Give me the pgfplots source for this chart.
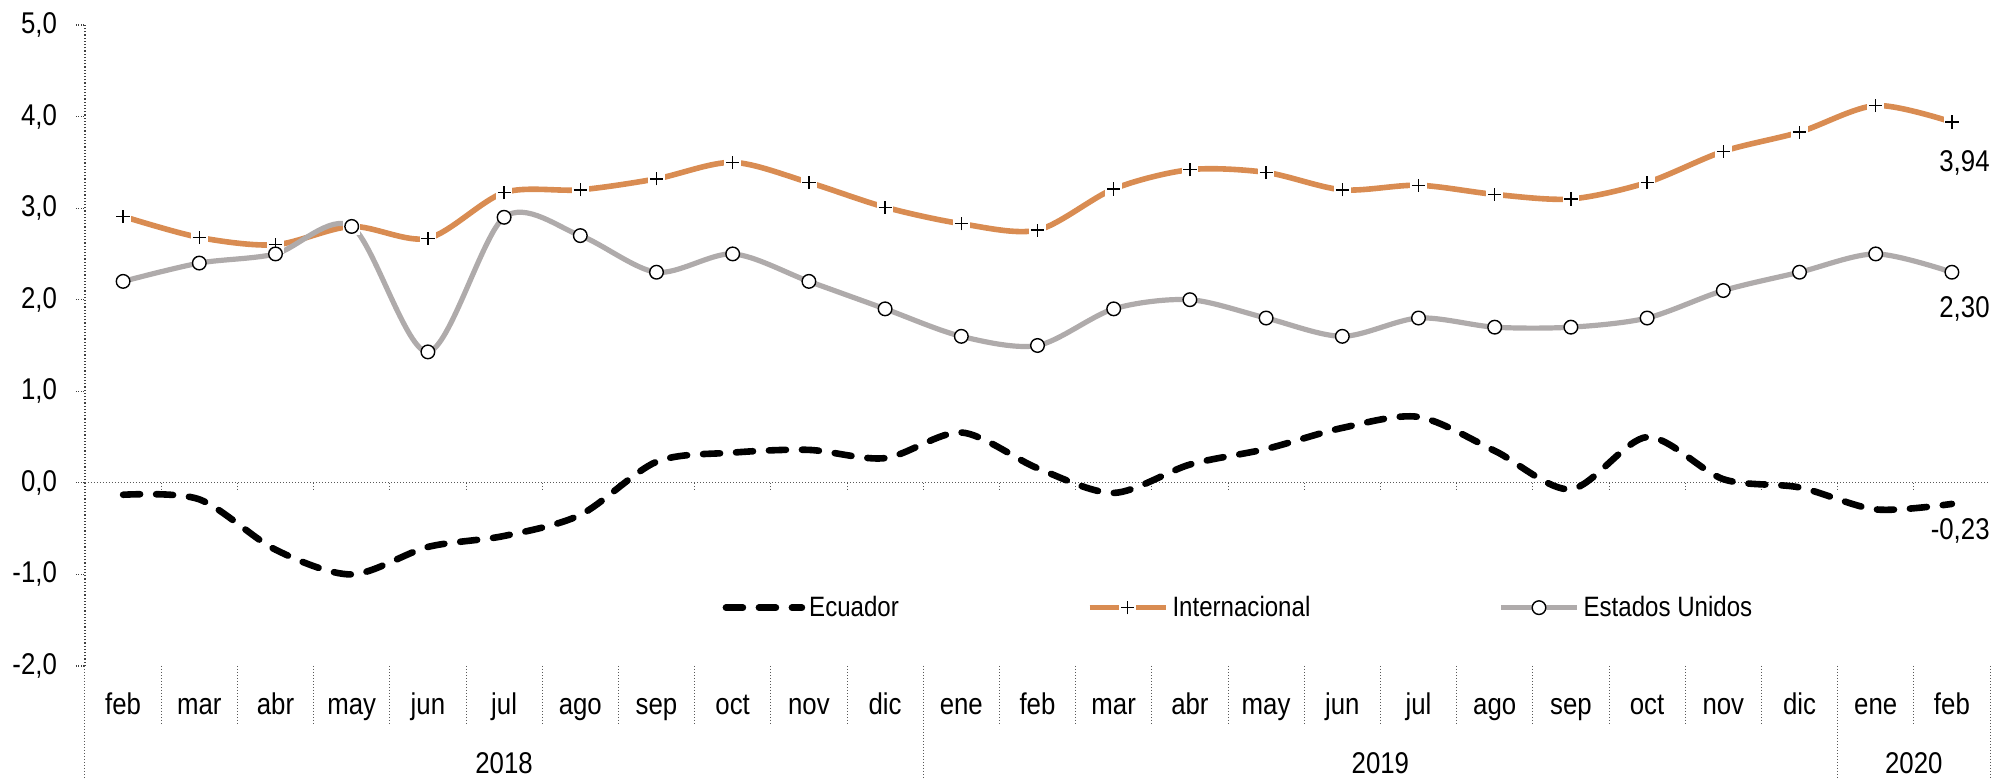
\documentclass[border=0pt]{standalone}
\usepackage{fontspec}
\setmainfont{Liberation Sans}[FakeStretch=0.86]
\usepackage{pgfplots}
\usepackage{pgfplotstable}
\pgfplotsset{compat=1.18}

\definecolor{intl}{RGB}{217,140,82}
\definecolor{usa}{RGB}{175,171,171}

% plus mark with a white patch behind it, so the line breaks at the mark
\pgfdeclareplotmark{wplus}{%
  \pgfpathrectangle{\pgfqpoint{-1.25\pgfplotmarksize}{-1.25\pgfplotmarksize}}%
                   {\pgfqpoint{2.5\pgfplotmarksize}{2.5\pgfplotmarksize}}%
  \pgfusepathqfill
  \pgfpathmoveto{\pgfqpoint{-\pgfplotmarksize}{0pt}}%
  \pgfpathlineto{\pgfqpoint{\pgfplotmarksize}{0pt}}%
  \pgfpathmoveto{\pgfqpoint{0pt}{-\pgfplotmarksize}}%
  \pgfpathlineto{\pgfqpoint{0pt}{\pgfplotmarksize}}%
  \pgfusepathqstroke}

\pgfplotstableread{
x  ecu   intl  usa
0  -0.13 2.91  2.20
1  -0.18 2.68  2.40
2  -0.73 2.60  2.50
3  -1.00 2.80  2.80
4  -0.70 2.67  1.43
5  -0.58 3.17  2.90
6  -0.35 3.20  2.70
7   0.23 3.32  2.30
8   0.33 3.50  2.50
9   0.36 3.28  2.20
10  0.27 3.01  1.90
11  0.55 2.83  1.60
12  0.16 2.76  1.50
13 -0.11 3.21  1.90
14  0.20 3.42  2.00
15  0.37 3.39  1.80
16  0.60 3.20  1.60
17  0.72 3.25  1.80
18  0.35 3.15  1.70
19 -0.07 3.10  1.70
20  0.50 3.28  1.80
21  0.04 3.62  2.10
22 -0.05 3.83  2.30
23 -0.29 4.12  2.50
24 -0.23 3.94  2.30
}\datatable

\begin{document}
\begin{tikzpicture}
\begin{axis}[
    scale only axis,
    width=952.5pt, height=320.5pt,
    xmin=-0.5, xmax=24.5, ymin=-2, ymax=5,
    axis lines=left,
    axis line style={-, densely dotted, black!75, line width=0.6pt},
    x axis line style={draw=none},
    xtick={0,...,24},
    xticklabels={feb,mar,abr,may,jun,jul,ago,sep,oct,nov,dic,ene,feb,mar,abr,may,jun,jul,ago,sep,oct,nov,dic,ene,feb},
    xtick style={draw=none},
    xticklabel style={anchor=base, yshift=-20pt},
    ytick={-2,-1,0,1,2,3,4,5},
    yticklabels={{-2,0},{-1,0},{0,0},{1,0},{2,0},{3,0},{4,0},{5,0}},
    ytick style={densely dotted, black!75, line width=0.6pt},
    tick align=outside, major tick length=4.5pt,
    yticklabel style={xshift=-6pt},
    tick label style={font=\fontsize{15}{17}\selectfont},
    clip=false,
    legend columns=3,
    legend style={at={(0.606,0.091)}, anchor=center, draw=none, fill=none,
        font=\fontsize{14}{16}\selectfont,
        /tikz/every even column/.append style={column sep=92pt}},
    legend image code/.code={\draw[mark repeat=2,mark phase=2,#1]
        plot coordinates {(0pt,0pt) (19pt,0pt) (38pt,0pt)};},
]
% zero line and category separators
\draw[densely dotted, black!65, line width=0.5pt] (axis cs:-0.5,0) -- (axis cs:24.5,0);
\pgfplotsinvokeforeach{0.5,1.5,...,23.5}{
    \draw[densely dotted, black!65, line width=0.5pt] (axis cs:#1,0) -- ++(0pt,-4.5pt);
    \draw[densely dotted, black!65, line width=0.5pt] (axis cs:#1,-2) -- ++(0pt,-29.5pt);
}
\pgfplotsinvokeforeach{-0.5,10.5,22.5,24.5}{
    \draw[densely dotted, black!65, line width=0.5pt] (axis cs:#1,-2) -- ++(0pt,-56.5pt);
}

\addplot[black, line width=3.3pt, line cap=round, dash pattern=on 8.5pt off 8pt, smooth]
    table[x=x, y=ecu] {\datatable};
\addlegendentry{Ecuador}
\addplot[intl, line width=2.8pt, smooth, mark=wplus, mark size=3.3pt,
    mark options={solid, draw=black, fill=white, line width=0.7pt}]
    table[x=x, y=intl] {\datatable};
\addlegendentry{Internacional}
\addplot[usa, line width=2.6pt, smooth, mark=*, mark size=3.4pt,
    mark options={solid, draw=black, fill=white, line width=0.7pt}]
    table[x=x, y=usa] {\datatable};
\addlegendentry{Estados Unidos}

% year labels
\node[anchor=base, font=\fontsize{15}{17}\selectfont] at ([yshift=-54pt]axis cs:5,-2) {2018};
\node[anchor=base, font=\fontsize{15}{17}\selectfont] at ([yshift=-54pt]axis cs:16.5,-2) {2019};
\node[anchor=base, font=\fontsize{15}{17}\selectfont] at ([yshift=-54pt]axis cs:23.5,-2) {2020};

% end values
\node[anchor=east, inner sep=0pt, font=\fontsize{15}{17}\selectfont] at ([yshift=-20.5pt]axis cs:24.5,3.94) {3,94};
\node[anchor=east, inner sep=0pt, font=\fontsize{15}{17}\selectfont] at ([yshift=-18.5pt]axis cs:24.5,2.30) {2,30};
\node[anchor=east, inner sep=0pt, font=\fontsize{15}{17}\selectfont] at ([yshift=-13.5pt]axis cs:24.5,-0.23) {-0,23};
\end{axis}
\pgfresetboundingbox
\path[use as bounding box] ([xshift=-42.5pt,yshift=-56.5pt]current axis.south west)
    rectangle ([xshift=1.5pt,yshift=12.5pt]current axis.north east);
\end{tikzpicture}
\end{document}
